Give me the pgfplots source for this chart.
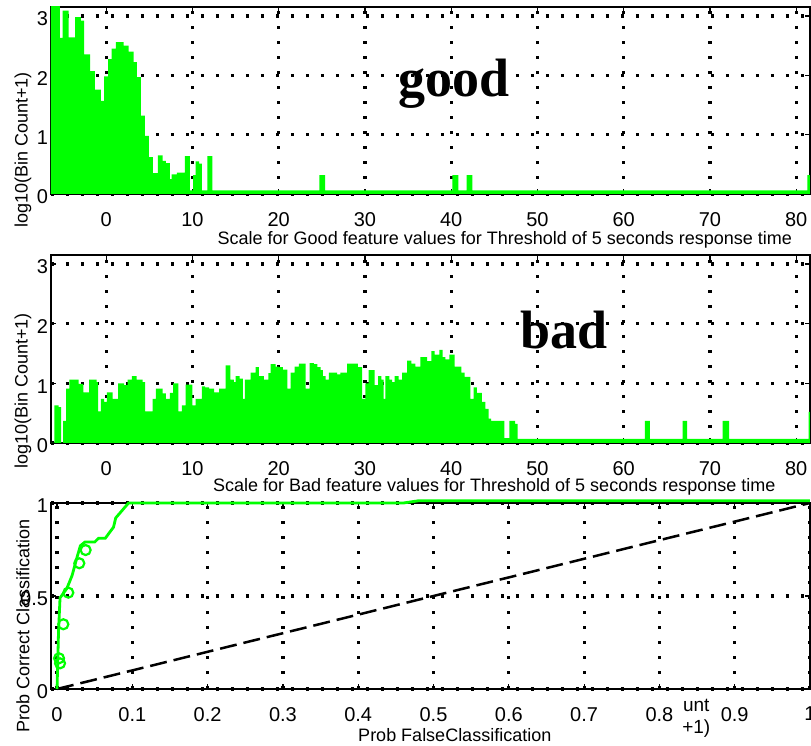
\documentclass[border=0pt]{standalone}
\usepackage{fontspec}
\setmainfont{Liberation Sans}
\newfontfamily\tnr{Liberation Serif}
\usepackage{pgfplots}
\pgfplotsset{compat=1.18}
\definecolor{mgreen}{RGB}{0,255,0}
\pgfplotsset{
 matax/.style={
  scale only axis, width=379.5pt,
  font=\fontsize{9}{11}\selectfont,
  tick label style={font=\fontsize{10}{12}\selectfont},
  /pgf/number format/assume math mode=true,
  axis line style={black, line width=1.4pt},
  tick align=inside, major tick length=2.5pt,
  tick style={black, line width=0.6pt},
  grid=major,
  grid style={black, line width=1.6pt, dash pattern=on 1.6pt off 5.9pt},
  xticklabel style={yshift=-5.5pt},
  yticklabel style={xshift=2pt, yshift=-1.5pt},
  anchor=south west,
 },
 hist/.style={matax, xmin=-6.4, xmax=81.6, ymin=0, ymax=3.15,
  xtick={0,10,20,30,40,50,60,70,80}, ytick={0,1,2,3}},
}
\begin{document}
\begin{tikzpicture}
\path[use as bounding box] (0,0) rectangle (405.5pt,373pt);
% ---------------- top: good
\begin{axis}[hist, at={(25.5pt,276pt)}, height=93.5pt,
  xlabel={Scale for Good feature values for Threshold of 5 seconds response time},
  xlabel style={at={(axis description cs:0.598,-0.246)}, anchor=center},
  ylabel={log10(Bin Count+1)},
  ylabel style={at={(axis description cs:-0.037,0.235)}, anchor=center}]
\addplot[const plot, fill=mgreen, draw=none] coordinates {
(-6.40,3.20) (-5.36,2.63) (-5.05,3.09) (-4.35,2.64) (-3.59,2.98) (-2.93,2.92)
(-2.55,2.35) (-1.85,2.07) (-1.31,1.76) (-0.61,1.57) (-0.23,1.98) (0.23,2.27)
(0.63,2.45) (1.12,2.56) (2.01,2.50) (2.59,2.40) (3.17,2.22) (3.55,1.97)
(4.02,1.32) (4.48,0.98) (4.94,0.62) (5.41,0.35) (5.98,0.65) (6.53,0.56)
(6.91,0.52) (7.37,0.25) (7.60,0.33) (8.18,0.36) (9.11,0.64) (9.69,0.06)
(10.07,0.32) (10.38,0.55) (10.76,0.51) (11.08,0.06) (11.74,0.64) (12.31,0.06)
(24.73,0.32) (25.39,0.06) (40.13,0.32) (40.82,0.06) (41.78,0.32) (42.47,0.06)
(81.31,0.32) (81.60,0.32)
} \closedcycle;
\node[font=\tnr\bfseries\fontsize{27}{30}\selectfont, anchor=base] at (axis cs:40.36,1.65) {good};
\end{axis}
% ---------------- middle: bad
\begin{axis}[hist, at={(25.5pt,151.5pt)}, height=94pt,
  xlabel={Scale for Bad feature values for Threshold of 5 seconds response time},
  xlabel style={at={(axis description cs:0.584,-0.234)}, anchor=center},
  ylabel={log10(Bin Count+1)},
  ylabel style={at={(axis description cs:-0.037,0.277)}, anchor=center}]
\addplot[const plot, fill=mgreen, draw=none] coordinates {
(-6.40,0) (-6.02,0.63) (-5.51,0.60) (-5.24,0) (-4.98,0.37) (-4.66,0.91)
(-4.28,1.06) (-3.19,0.99) (-2.66,0.85) (-1.97,1.06) (-1.11,1.02) (-0.93,0.53)
(-0.61,0.74) (-0.23,0.69) (0.08,0.85) (0.74,0.74) (1.39,1.00) (2.08,0.97)
(2.48,1.06) (2.97,1.12) (3.52,1.06) (4.21,1.02) (4.51,0.53) (5.37,0.74)
(5.75,0.91) (6.53,0.83) (6.91,0.74) (7.37,0.84) (7.75,1.00) (8.38,0.53)
(8.76,0.63) (9.22,0.98) (10.00,0.63) (10.38,0.74) (11.08,0.95) (11.46,0.93)
(11.92,0.91) (12.50,0.85) (13.08,0.91) (13.85,1.30) (14.40,1.06) (14.81,1.02)
(15.01,1.12) (15.47,1.08) (15.86,0.74) (16.09,1.06) (16.75,1.18) (17.33,1.27)
(17.71,1.12) (18.29,1.06) (18.80,1.17) (19.06,1.32) (19.64,1.28) (20.02,1.27)
(20.49,1.23) (21.00,0.91) (21.38,1.18) (21.84,1.28) (22.34,1.33) (23.11,0.91)
(23.58,1.34) (24.07,1.32) (24.47,1.27) (24.85,1.22) (25.12,1.12) (25.43,1.06)
(25.81,1.18) (26.78,1.15) (27.16,1.18) (27.94,1.33) (29.17,1.27) (29.68,0.74)
(30.06,1.00) (30.44,1.22) (31.13,0.97) (31.53,1.12) (31.91,1.06) (32.18,0.74)
(32.37,1.12) (32.84,1.06) (33.15,1.02) (33.45,1.12) (33.91,1.06) (34.31,1.18)
(34.88,1.38) (35.38,1.33) (35.84,1.28) (36.42,1.44) (37.20,1.37) (37.70,1.54)
(38.08,1.48) (38.62,1.56) (39.00,1.44) (39.32,1.40) (39.78,1.48) (40.39,1.28)
(41.17,1.18) (41.55,1.11) (42.21,0.74) (42.59,0.93) (42.99,0.84) (43.56,0.69)
(43.95,0.57) (44.33,0.41) (44.64,0.37) (46.18,0.08) (46.76,0.37) (47.42,0.32)
(47.69,0.07) (62.47,0.37) (63.04,0.07) (66.83,0.37) (67.36,0.07) (71.46,0.37)
(72.22,0.07) (81.45,0.52) (81.60,0.52)
} \closedcycle;
\node[font=\tnr\bfseries\fontsize{27}{30}\selectfont, anchor=base] at (axis cs:53.1,1.59) {bad};
\end{axis}
% ---------------- bottom: ROC
\begin{axis}[matax, at={(25.5pt,28.5pt)}, height=93pt, clip=false,
  xmin=-0.008, xmax=1, ymin=0, ymax=1,
  xtick={0,0.1,0.2,0.3,0.4,0.5,0.6,0.7,0.8,0.9,1},
  xticklabels={0,0.1,0.2,0.3,0.4,0.5,0.6,0.7,0.8,0.9,1},
  ytick={0,0.5,1}, yticklabels={0,0.5,1},
  xlabel={Prob FalseClassification},
  xlabel style={at={(axis description cs:0.532,-0.247)}, anchor=center},
  ylabel={Prob Correct Classification},
  ylabel style={at={(axis description cs:-0.037,0.339)}, anchor=center}]
\addplot[black, line width=1.25pt, dash pattern=on 8.5pt off 3.5pt] coordinates {(0,0) (1,1)};
\addplot[mgreen, line width=1.4pt] coordinates {
(0,0) (0.001,0.15) (0.002,0.31) (0.004,0.49) (0.013,0.54) (0.020,0.61)
(0.026,0.70) (0.031,0.77) (0.037,0.79) (0.050,0.79) (0.055,0.81) (0.064,0.81)
(0.075,0.87) (0.078,0.92) (0.095,1.0) (0.46,1.0) (0.48,1.012) (1,1.012)
};
\addplot[only marks, mark=o, mark size=2.5pt, mgreen, line width=1.1pt] coordinates {
(0.0027,0.165) (0.004,0.138) (0.0084,0.348) (0.015,0.518) (0.0296,0.676) (0.038,0.747)
};
\node[font=\fontsize{9.5}{11}\selectfont] at (axis cs:0.849,-0.086) {unt};
\node[font=\fontsize{9.5}{11}\selectfont] at (axis cs:0.849,-0.215) {+1)};
\end{axis}
\end{tikzpicture}
\end{document}
